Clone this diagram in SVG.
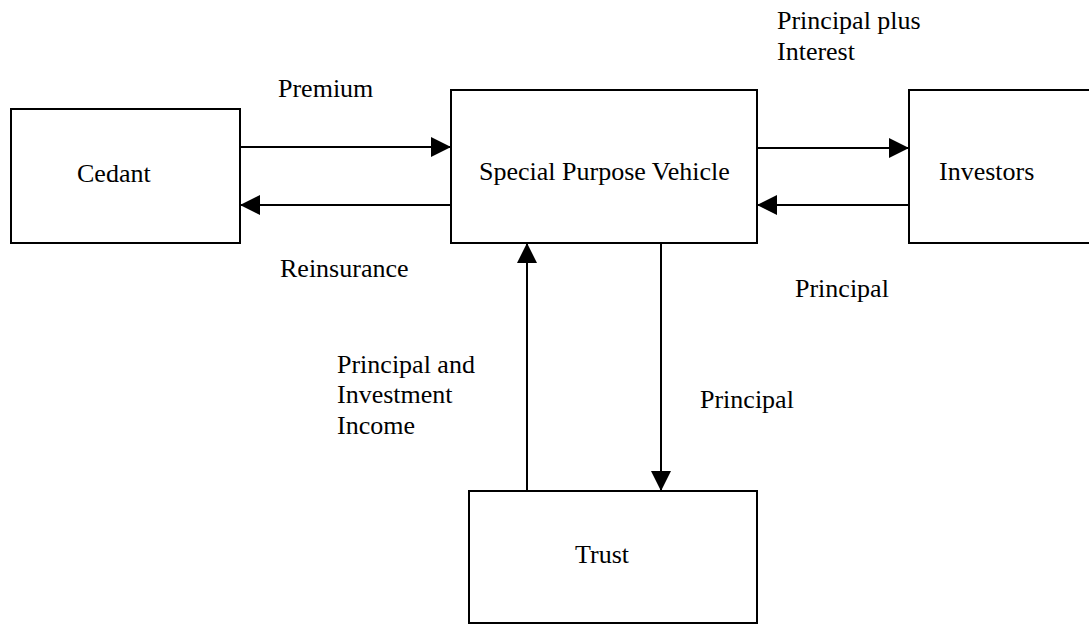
<svg xmlns="http://www.w3.org/2000/svg" width="1089" height="625" viewBox="0 0 1089 625">
  <style>
    .box { fill: #fff; stroke: #000; stroke-width: 2; }
    .txt { font-family: 'Liberation Serif', Tinos, 'Times New Roman', Times, 'DejaVu Serif', serif; font-size: 26px; fill: #000; }
    .link { fill: none; stroke: #000; stroke-width: 2; }
  </style>
  <defs>
    <marker id="arrow" markerUnits="userSpaceOnUse" markerWidth="20" markerHeight="20" refX="20" refY="10" orient="auto">
      <path d="M0,0 L20,10 L0,20 Z" fill="#000"/>
    </marker>
  </defs>
  <rect width="1089" height="625" fill="#fff"/>

  <g id="cedant">
    <rect class="box" x="11" y="109" width="229" height="134"/>
    <text class="txt" font-family="Liberation Serif, serif" x="77" y="182">Cedant</text>
  </g>

  <g id="spv">
    <rect class="box" x="451" y="90" width="306" height="153"/>
    <text class="txt" font-family="Liberation Serif, serif" x="479" y="180">Special Purpose Vehicle</text>
  </g>

  <g id="investors">
    <rect class="box" x="909" y="90" width="200" height="153"/>
    <text class="txt" font-family="Liberation Serif, serif" x="939" y="180">Investors</text>
  </g>

  <g id="trust">
    <rect class="box" x="469" y="491" width="288" height="132"/>
    <text class="txt" font-family="Liberation Serif, serif" x="575" y="563">Trust</text>
  </g>

  <g id="connectors">
    <line class="link" x1="240" y1="147" x2="451" y2="147" marker-end="url(#arrow)"/>
    <line class="link" x1="451" y1="205" x2="240" y2="205" marker-end="url(#arrow)"/>
    <line class="link" x1="757" y1="148" x2="909" y2="148" marker-end="url(#arrow)"/>
    <line class="link" x1="909" y1="205" x2="757" y2="205" marker-end="url(#arrow)"/>
    <line class="link" x1="527" y1="491" x2="527" y2="243" marker-end="url(#arrow)"/>
    <line class="link" x1="661" y1="243" x2="661" y2="491" marker-end="url(#arrow)"/>
  </g>

  <g id="labels" font-family="Liberation Serif, serif">
    <text class="txt" x="278" y="97">Premium</text>
    <text class="txt" x="280" y="277">Reinsurance</text>
    <text class="txt" x="777" y="29">Principal plus</text>
    <text class="txt" x="777" y="60">Interest</text>
    <text class="txt" x="795" y="297">Principal</text>
    <text class="txt" x="337" y="373">Principal and</text>
    <text class="txt" x="337" y="403">Investment</text>
    <text class="txt" x="337" y="434">Income</text>
    <text class="txt" x="700" y="408">Principal</text>
  </g>
</svg>
